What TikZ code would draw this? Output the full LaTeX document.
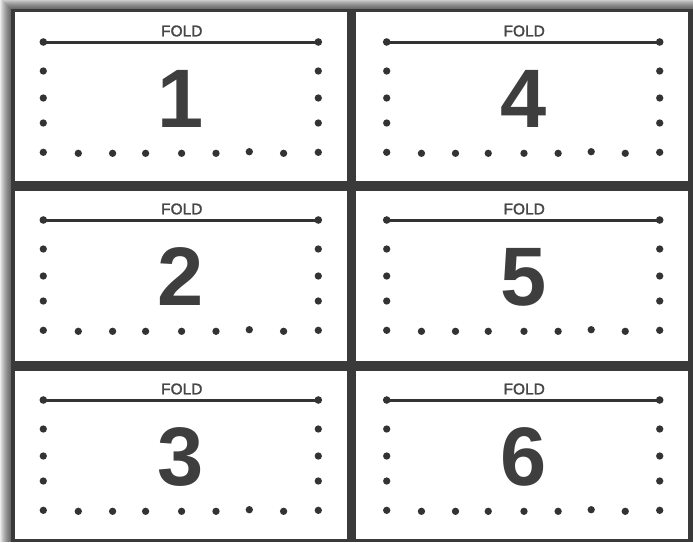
\documentclass[tikz,border=0pt]{standalone}
\usepackage{fontspec}
\setmainfont{Liberation Sans}
\newfontfamily\foldfont[FakeBold=1.6]{Liberation Sans}
\definecolor{frame}{HTML}{3A3A3A}
\definecolor{ink}{HTML}{333333}
\definecolor{numcol}{HTML}{3E3E3E}
\definecolor{lblcol}{HTML}{474747}
\begin{document}
\begin{tikzpicture}[x=1pt,y=-1pt,
  dot/.style={circle,fill=ink,inner sep=0pt,minimum size=7.3pt},
  enddot/.style={circle,fill=ink,inner sep=0pt,minimum size=7.6pt},
  foldlabel/.style={font=\foldfont\fontsize{15.5}{16}\selectfont,text=lblcol,inner sep=0pt},
  bignum/.style={font=\bfseries\fontsize{83}{83}\selectfont,text=numcol,inner sep=0pt},
  foldline/.style={draw=ink,line width=3pt},
  panel/.style={fill=white}]
\useasboundingbox (0,0) rectangle (693,542);
% shadow on the left and top
\foreach \i in {0,...,11}{
  \fill[black,opacity=0.075] (11-\i,9-\i) rectangle (693,542);
}
% dark sheet (frame and dividers)
\fill[frame] (11,9) rectangle (693,542);
% white panels
\foreach \xa/\xb in {15/346.7, 356/688}{
  \foreach \ya/\yb in {12/181, 190.7/360.5, 370.7/539}{
    \fill[panel] (\xa,\ya) rectangle (\xb,\yb);
  }
}
% panel contents
\foreach \n/\cx/\cy/\w in {1/43.3/42/275, 2/43.3/220/275, 3/43.3/400/275,
                           4/386.7/42/273, 5/386.7/220/273, 6/386.7/400/273}{
  \node[foldlabel] (lbl\n) at ({\cx+\w/2+1},{\cy-11}) {FOLD};
  \node[enddot] (fl\n) at (\cx,\cy) {};
  \node[enddot] (fr\n) at ({\cx+\w},\cy) {};
  \draw[foldline] (fl\n.center) -- (fr\n.center);
  \node[bignum] (num\n) at ({\cx+\w/2},{\cy+57}) {\n};
  \foreach \k/\dy in {1/29, 2/56, 3/81}{
    \node[dot] (l\n-\k) at (\cx,{\cy+\dy}) {};
    \node[dot] (r\n-\k) at ({\cx+\w},{\cy+\dy}) {};
  }
  \foreach \k/\dx/\dy in {0/0/110.3, 1/35/111.3, 2/69.3/111.3, 3/102.3/111.3,
                          4/138.3/111.3, 5/172.7/111.3, 6/206/109.7,
                          7/240.3/111.3, 8/275/110.3}{
    \node[dot] (b\n-\k) at ({\cx+\dx/275*\w},{\cy+\dy}) {};
  }
}
\end{tikzpicture}
\end{document}
